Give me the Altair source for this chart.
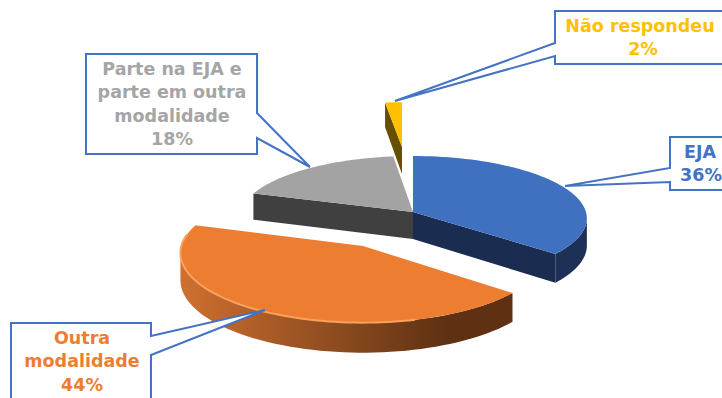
import math
import altair as alt

# Survey answers, in clockwise order starting at twelve o'clock
categories = ["EJA", "Outra modalidade", "Parte na EJA e parte em outra modalidade", "Não respondeu"]
shares = [36, 44, 18, 2]

WIDTH, HEIGHT = 722, 398

# Projection of the tilted disc onto the page
CX, CY = 413, 212
RX, RY = 173, 61.6
PERSPECTIVE = 0.1
DEPTH = 27

# Explosion of each slice: offset from the centre and per-axis scale
placement = {
    "EJA": (0, 0, 1.0, 1.0),
    "Outra modalidade": (-50, 34, 1.05, 1.12),
    "Parte na EJA e parte em outra modalidade": (0, 0, 1.0, 1.0),
    "Não respondeu": (-11, -65, 0.86, 0.8),
}


def rim(name, deg):
    """Page position of the disc edge at a clockwise angle, plus its wall height."""
    dx, dy, sx, sy = placement[name]
    t = math.radians(deg)
    s = 1 / (1 + PERSPECTIVE * math.cos(t))
    x = CX + dx + RX * sx * math.sin(t) * s
    y = CY + dy - RY * sy * math.cos(t) * s
    return x, y, DEPTH * s


def apex(name):
    dx, dy, _, _ = placement[name]
    return CX + dx, CY + dy


def arc(name, a, b, n=60):
    return [rim(name, a + (b - a) * i / n) for i in range(n + 1)]


def polygon(points):
    ring = [list(p) for p in points]
    return {"type": "Feature", "properties": {},
            "geometry": {"type": "Polygon", "coordinates": [ring + [ring[0]]]}}


def line(points):
    return {"type": "Feature", "properties": {},
            "geometry": {"type": "LineString", "coordinates": [list(p) for p in points]}}


def shape(feature, **style):
    return (
        alt.Chart(alt.Data(values=[feature]))
        .mark_geoshape(**style)
        .project(type="identity", scale=1, translate=[0, 0])
    )


def top_face(name, a, b):
    return polygon([apex(name)] + [(x, y) for x, y, _ in arc(name, a, b)])


def rim_wall(name, a, b):
    edge = arc(name, a, b)
    upper = [(x, y) for x, y, _ in edge]
    lower = [(x, y + d) for x, y, d in reversed(edge)]
    return polygon(upper + lower)


def cut_wall(name, deg):
    ax, ay = apex(name)
    x, y, d = rim(name, deg)
    return polygon([(ax, ay), (x, y), (x, y + d), (ax, ay + DEPTH)])


# Slice angle ranges follow from the shares
bounds = {}
start = 0.0
for cat, share in zip(categories, shares):
    bounds[cat] = (start, start + share * 3.6)
    start += share * 3.6

eja, outra, parte, nao = categories

orange_wall = alt.LinearGradient(
    gradient="linear", x1=0, x2=1, y1=0, y2=0,
    stops=[
        alt.GradientStop(offset=0, color="#cf7030"),
        alt.GradientStop(offset=0.45, color="#8f4d20"),
        alt.GradientStop(offset=0.8, color="#5f3112"),
        alt.GradientStop(offset=1, color="#5f3112"),
    ],
)

# The wall silhouette turns at about 96 degrees either side of the back of the disc
SILHOUETTE = 96

layers = [
    # Detached sliver at the back
    shape(cut_wall(nao, bounds[nao][0]), fill="#665000"),
    shape(top_face(nao, *bounds[nao]), fill="#ffc000"),
    # Grey slice
    shape(cut_wall(parte, bounds[parte][0]), fill="#404040"),
    shape(top_face(parte, *bounds[parte]), fill="#a3a3a3"),
    # Blue slice
    shape(rim_wall(eja, SILHOUETTE, bounds[eja][1]), fill="#1d3156"),
    shape(cut_wall(eja, bounds[eja][1]), fill="#1a2c50"),
    shape(top_face(eja, *bounds[eja]), fill="#4070c0"),
    # Orange slice, pulled towards the viewer
    shape(rim_wall(outra, bounds[outra][0], 360 - SILHOUETTE), fill=orange_wall),
    shape(top_face(outra, *bounds[outra]), fill="#ed7d31"),
    shape(line([(x, y) for x, y, _ in arc(outra, 165, 280)]),
          fill="transparent", stroke="#f8a25e", strokeWidth=2),
]

# Callout outlines with their pointers
callouts = [
    [(11, 323), (151, 323), (151, 336), (265, 310), (151, 355), (151, 410), (11, 410)],
    [(86, 54), (257, 54), (257, 113), (310, 167), (257, 138), (257, 154), (86, 154)],
    [(555, 11), (735, 11), (735, 64), (555, 64), (555, 56), (395, 101), (555, 43)],
    [(670, 137), (735, 137), (735, 190), (670, 190), (670, 182), (565, 186), (670, 168)],
]
for outline in callouts:
    layers.append(shape(polygon(outline), fill="white", stroke="#4472c4", strokeWidth=2))

# Callout text
label_x = [82, 82, 82, 172, 172, 172, 172, 640, 643, 700, 701]
label_y = [339, 362, 386, 70, 93, 117, 140, 27, 50, 153, 176]
label_text = ["Outra", "modalidade", "44%",
              "Parte na EJA e", "parte em outra", "modalidade", "18%",
              "Não respondeu", "2%",
              "EJA", "36%"]
label_color = ["#ed7d31"] * 3 + ["#a5a5a5"] * 4 + ["#ffc000"] * 2 + ["#4472c4"] * 2

labels = alt.Chart(alt.Data(values=[
    {"x": x, "y": y, "text": t, "color": c}
    for x, y, t, c in zip(label_x, label_y, label_text, label_color)
])).mark_text(font="DejaVu Sans", fontWeight="bold", fontSize=17.5, baseline="middle", align="center").encode(
    x=alt.X("x:Q", scale=alt.Scale(domain=[0, WIDTH]), axis=None),
    y=alt.Y("y:Q", scale=alt.Scale(domain=[HEIGHT, 0]), axis=None),
    text="text:N",
    color=alt.Color("color:N", scale=None),
)

chart = alt.layer(*layers, labels).properties(
    width=WIDTH, height=HEIGHT, padding=0,
    autosize=alt.AutoSizeParams(type="none"),
    background="white",
).configure_view(stroke=None)

chart.save("out.html", embed_options={"renderer": "svg", "actions": False})
